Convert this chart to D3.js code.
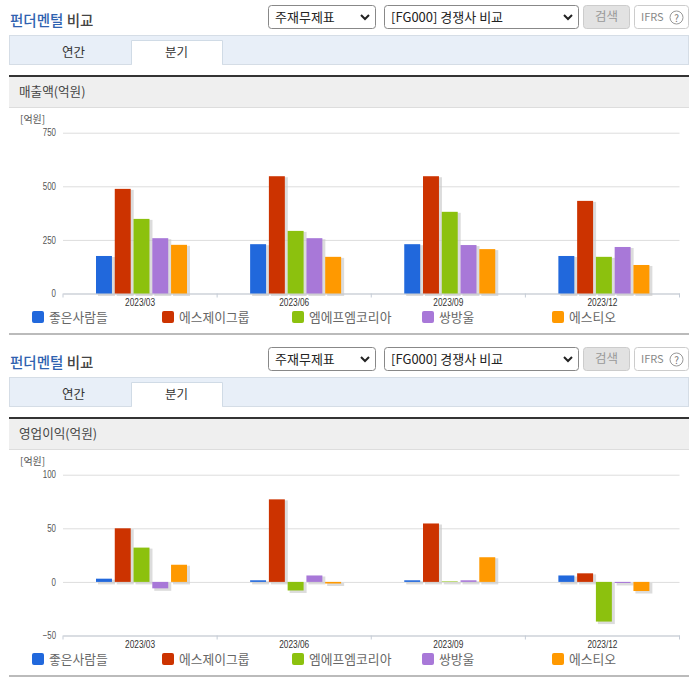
<!DOCTYPE html>
<html>
<head>
<meta charset="utf-8">
<script src="https://cdn.jsdelivr.net/npm/d3@7"></script>
<style>
  html, body { margin: 0; padding: 0; background: #fff; }
  svg { display: block; }
  text { font-family: "Noto Sans CJK KR", "Noto Sans", sans-serif; }
</style>
</head>
<body>
<div id="chart"></div>
<script>
// data
var quarters = ['2023/03', '2023/06', '2023/09', '2023/12'];
var companies = ['좋은사람들', '에스제이그룹', '엠에프엠코리아', '쌍방울', '에스티오'];
var colors = ['#2168dc', '#cc3300', '#8cc10e', '#a878d8', '#ff9900'];

var sales = [
  [175, 488, 348, 258, 227],
  [230, 547, 292, 258, 171],
  [230, 547, 381, 226, 207],
  [175, 432, 171, 217, 133]
];
var salesTicks = [0, 250, 500, 750];

var profit = [
  [3, 50, 32, -6, 16],
  [1.5, 77, -8, 6, -1.5],
  [1.5, 54.5, 0.5, 1.5, 23],
  [6, 8, -37, -1, -8.5]
];
var profitTicks = [-50, 0, 50, 100];

var svg = d3.select('#chart').append('svg')
  .attr('width', 696)
  .attr('height', 684);

drawPanel(0, '매출액(억원)', sales, salesTicks);
drawPanel(342, '영업이익(억원)', profit, profitTicks);

function drawPanel(offset, title, values, ticks) {
  var g = svg.append('g').attr('transform', 'translate(0,' + offset + ')');
  drawHeader(g, title);

  // scales
  var x0 = d3.scaleBand().domain(quarters).range([63, 679.5]);
  var x1 = d3.scaleBand().domain(d3.range(companies.length))
    .range([33, 124]).paddingInner(0.15);
  var y = d3.scaleLinear().domain(d3.extent(ticks)).range([293.5, 132.7]);

  // unit label
  g.append('text').attr('x', 20).attr('y', 123)
    .attr('font-size', 10).attr('fill', '#555').text('[억원]');

  // y axis with grid lines
  var yAxis = g.append('g').attr('transform', 'translate(63,0)')
    .call(d3.axisLeft(y).tickValues(ticks).tickSize(0).tickPadding(7));
  yAxis.select('.domain').remove();
  yAxis.selectAll('text').attr('font-size', 10).attr('fill', '#555')
    .style('font-family', '"Liberation Sans", sans-serif')
    .attr('textLength', function(d) { return String(d).length * 4.4; })
    .attr('lengthAdjust', 'spacingAndGlyphs');
  yAxis.selectAll('line')
    .attr('x2', 616.5)
    .attr('stroke', '#dddddd');

  // x axis
  var xAxis = g.append('g').attr('transform', 'translate(0,293.5)')
    .call(d3.axisBottom(x0).tickSize(0).tickPadding(5));
  xAxis.select('.domain').attr('stroke', '#c5ccd6');
  xAxis.selectAll('text').attr('font-size', 10).attr('fill', '#333')
    .style('font-family', '"Liberation Sans", sans-serif')
    .attr('textLength', 30)
    .attr('lengthAdjust', 'spacingAndGlyphs');
  xAxis.selectAll('.edge')
    .data(d3.range(quarters.length + 1))
    .enter().append('line')
    .attr('x1', function(d) { return 63 + d * x0.step(); })
    .attr('x2', function(d) { return 63 + d * x0.step(); })
    .attr('y1', 0).attr('y2', 4)
    .attr('stroke', '#c5ccd6');

  // bars, a grey shadow first and then the bar
  var groups = g.selectAll('.quarter')
    .data(values)
    .enter().append('g')
    .attr('class', 'quarter')
    .attr('transform', function(d, i) { return 'translate(' + x0(quarters[i]) + ',0)'; });

  groups.selectAll('.shadow')
    .data(function(d) { return d; })
    .enter().append('rect')
    .attr('class', 'shadow')
    .attr('x', function(d, i) { return x1(i) + 2; })
    .attr('y', function(d) { return Math.min(y(d), y(0)) + 1; })
    .attr('width', x1.bandwidth() + 1)
    .attr('height', function(d) { return Math.abs(y(d) - y(0)) + 1.5; })
    .attr('fill', '#c9c9c9')
    .attr('opacity', 0.65);

  groups.selectAll('.bar')
    .data(function(d) { return d; })
    .enter().append('rect')
    .attr('class', 'bar')
    .attr('x', function(d, i) { return x1(i); })
    .attr('y', function(d) { return Math.min(y(d), y(0)); })
    .attr('width', x1.bandwidth())
    .attr('height', function(d) { return Math.abs(y(d) - y(0)); })
    .attr('fill', function(d, i) { return colors[i]; });

  // legend
  var legend = g.selectAll('.legend')
    .data(companies)
    .enter().append('g')
    .attr('class', 'legend')
    .attr('transform', function(d, i) { return 'translate(' + (32 + i * 130) + ',311)'; });
  legend.append('rect')
    .attr('width', 12).attr('height', 12).attr('rx', 2)
    .attr('fill', function(d, i) { return colors[i]; });
  legend.append('text')
    .attr('x', 17).attr('y', 11)
    .attr('font-size', 12.8).attr('fill', '#666')
    .text(function(d) { return d; });

  // rule under the panel
  g.append('rect').attr('x', 9).attr('y', 333).attr('width', 680).attr('height', 2)
    .attr('fill', '#bbbbbb');
}

function drawHeader(g, title) {
  var heading = g.append('text').attr('x', 10).attr('y', 25.5)
    .attr('font-size', 14.5).attr('font-weight', 500);
  heading.append('tspan').attr('fill', '#2f62b0').text('펀더멘털');
  heading.append('tspan').attr('fill', '#444').text(' 비교');

  drawSelect(g, 268, 107, '주재무제표');
  drawSelect(g, 384, 194, '[FG000] 경쟁사 비교');

  // search button
  g.append('rect').attr('x', 583.5).attr('y', 5.5).attr('width', 46).attr('height', 23).attr('rx', 3)
    .attr('fill', '#e2e2e2').attr('stroke', '#cccccc');
  g.append('text').attr('x', 606.5).attr('y', 21).attr('text-anchor', 'middle')
    .attr('font-size', 12.5).attr('fill', '#999').text('검색');

  // IFRS button
  g.append('rect').attr('x', 634.5).attr('y', 5.5).attr('width', 54).attr('height', 23).attr('rx', 3)
    .attr('fill', '#fff').attr('stroke', '#cccccc');
  g.append('text').attr('x', 641).attr('y', 21)
    .attr('font-size', 11).attr('fill', '#888').text('IFRS');
  g.append('circle').attr('cx', 676.5).attr('cy', 17.5).attr('r', 6.5)
    .attr('fill', '#fff').attr('stroke', '#999');
  g.append('text').attr('x', 676.5).attr('y', 21.5).attr('text-anchor', 'middle')
    .attr('font-size', 10).attr('fill', '#777').text('?');

  // tabs
  g.append('rect').attr('x', 9.5).attr('y', 35.5).attr('width', 679).attr('height', 29)
    .attr('fill', '#e8eff8').attr('stroke', '#d5dde6');
  g.append('path').attr('d', 'M131.5,64.5V40.5H222.5V64.5')
    .attr('fill', '#fff').attr('stroke', '#d0dbe6');
  g.append('rect').attr('x', 132).attr('y', 63).attr('width', 90).attr('height', 2).attr('fill', '#fff');
  g.append('text').attr('x', 73.5).attr('y', 56.5).attr('text-anchor', 'middle')
    .attr('font-size', 12.5).attr('fill', '#333').text('연간');
  g.append('text').attr('x', 176.5).attr('y', 56.5).attr('text-anchor', 'middle')
    .attr('font-size', 12.5).attr('fill', '#333').text('분기');

  // title bar
  g.append('rect').attr('x', 9).attr('y', 77).attr('width', 680).attr('height', 30)
    .attr('fill', '#efefef');
  g.append('rect').attr('x', 9).attr('y', 107).attr('width', 680).attr('height', 1)
    .attr('fill', '#dddddd');
  g.append('rect').attr('x', 9).attr('y', 75).attr('width', 680).attr('height', 2)
    .attr('fill', '#333333');
  g.append('text').attr('x', 19).attr('y', 96)
    .attr('font-size', 12.6).attr('fill', '#444').text(title);
}

function drawSelect(g, x, w, label) {
  g.append('rect').attr('x', x + 0.5).attr('y', 5.5).attr('width', w).attr('height', 23).attr('rx', 3)
    .attr('fill', '#fff').attr('stroke', '#888');
  g.append('text').attr('x', x + 7).attr('y', 22)
    .attr('font-size', 13).attr('fill', '#222').text(label);
  g.append('path')
    .attr('d', 'M' + (x + w - 14) + ',15l4,4l4,-4')
    .attr('fill', 'none').attr('stroke', '#222').attr('stroke-width', 2);
}
</script>
</body>
</html>
